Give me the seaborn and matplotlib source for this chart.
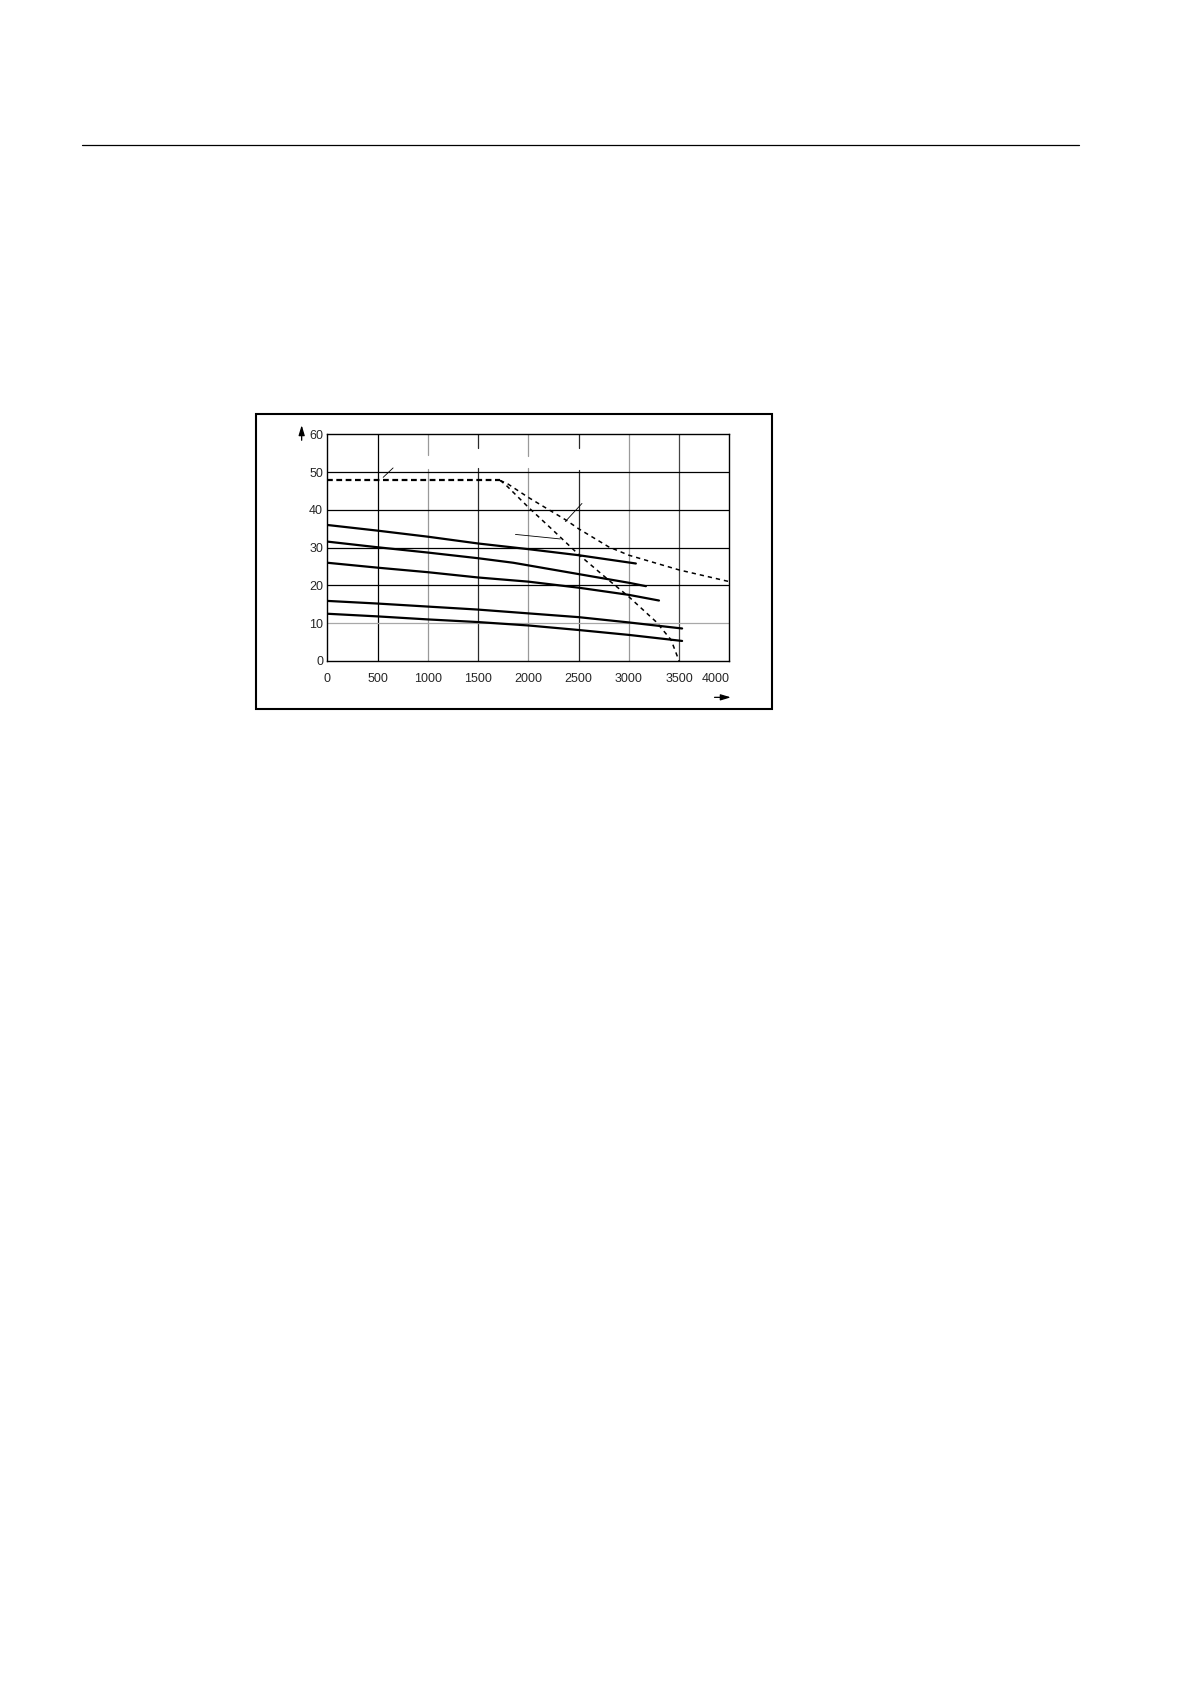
import numpy as np
import pandas as pd
import matplotlib
matplotlib.use('Agg')
import matplotlib.pyplot as plt
import seaborn as sns
from matplotlib.patches import Rectangle, FancyArrowPatch
from matplotlib.lines import Line2D

# valors llegits de la figura
x_ticks = [0, 500, 1000, 1500, 2000, 2500, 3000, 3500, 4000]
y_ticks = [0, 10, 20, 30, 40, 50, 60]

c1_x = [0, 500, 1000, 1500, 2000, 2500, 3070]
c1_y = [36.0, 34.5, 32.9, 31.1, 29.6, 28.0, 25.8]
c2_x = [0, 500, 1000, 1500, 1850, 2500, 3000, 3170]
c2_y = [31.6, 30.1, 28.7, 27.2, 26.0, 23.0, 20.7, 19.8]
c3_x = [0, 500, 1000, 1500, 2000, 2500, 3000, 3300]
c3_y = [26.0, 24.7, 23.5, 22.1, 21.0, 19.4, 17.5, 16.0]
c4_x = [0, 500, 1000, 1500, 2000, 2500, 3000, 3530]
c4_y = [15.9, 15.2, 14.4, 13.6, 12.6, 11.6, 10.2, 8.6]
c5_x = [0, 500, 1000, 1500, 2000, 2500, 3000, 3530]
c5_y = [12.5, 11.8, 11.0, 10.3, 9.4, 8.2, 6.9, 5.3]

lim_x = [0, 1720]
lim_y = [47.8, 47.8]
steep_x = [1720, 1780, 2000, 2250, 2500, 2800, 3000, 3270, 3420, 3500]
steep_y = [47.8, 46.5, 40.7, 34.5, 28.2, 21.4, 17.0, 10.4, 5.6, 0.0]
soft_x = [1720, 1800, 2000, 2375, 2500, 2800, 3000, 3500, 4000]
soft_y = [47.8, 46.8, 43.3, 37.3, 35.0, 30.2, 28.0, 24.1, 21.0]

# línies de referència (sense text)
leaders = [
    ([556, 655], [48.6, 51.1]),
    ([2368, 2534], [36.9, 41.7]),
    ([1872, 2318], [33.5, 32.3]),
]

sns.set_style('white')
plt.rcParams['font.family'] = ['Liberation Sans', 'DejaVu Sans']

fig = plt.figure(figsize=(11.9, 16.84), dpi=100)
ax = fig.add_axes([0.2750, 0.6075, 0.3379, 0.1346])

# graella
vgrid = {500: ('#000000', None), 1000: ('#9a9a9a', (54.4, 50.8)),
         1500: ('#2a2a2a', (56.5, 51.0)), 2000: ('#9a9a9a', (54.3, 51.2)),
         2500: ('#2a2a2a', (56.3, 50.5)), 3000: ('#9a9a9a', None),
         3500: ('#444444', None)}
for xv, (col, gap) in vgrid.items():
    if gap is None:
        ax.axvline(xv, color=col, lw=0.9, zorder=1)
    else:
        ax.axvline(xv, ymin=gap[0] / 60, ymax=1, color=col, lw=0.9, zorder=1)
        ax.axvline(xv, ymin=0, ymax=gap[1] / 60, color=col, lw=0.9, zorder=1)
for yv in [20, 30, 40, 50]:
    ax.axhline(yv, color='black', lw=0.9, zorder=1)
ax.axhline(10, color='#a8a8a8', lw=0.9, zorder=1)

# corbes contínues
rows = []
for i, (xs, ys) in enumerate([(c1_x, c1_y), (c2_x, c2_y), (c3_x, c3_y),
                              (c4_x, c4_y), (c5_x, c5_y)]):
    for a, b in zip(xs, ys):
        rows.append({'n': a, 'M': b, 'curve': f'c{i}'})
df = pd.DataFrame(rows)
sns.lineplot(data=df, x='n', y='M', units='curve', estimator=None, sort=False,
             color='black', lw=1.6, ax=ax, zorder=3)

# corbes discontínues
ax.plot(lim_x, lim_y, color='black', lw=1.6, dashes=(2.6, 1.6), zorder=3)
ax.plot(steep_x, steep_y, color='black', lw=1.1, dashes=(2.8, 2.6), zorder=3)
ax.plot(soft_x, soft_y, color='black', lw=1.1, dashes=(2.8, 2.6), zorder=3)

for lx, ly in leaders:
    ax.plot(lx, ly, color='black', lw=0.6, zorder=3)

ax.set_xlim(0, 4000)
ax.set_ylim(0, 60)
ax.set_xticks(x_ticks)
ax.set_yticks(y_ticks)
ax.set_xticklabels([str(v) for v in x_ticks], fontsize=9)
ax.set_yticklabels([str(v) for v in y_ticks], fontsize=9)
ax.get_xticklabels()[-1].set_horizontalalignment('right')
ax.tick_params(axis='x', length=0, pad=8.5)
ax.tick_params(axis='y', length=0, pad=3)
ax.set_xlabel('')
ax.set_ylabel('')
for s in ax.spines.values():
    s.set_visible(True)
    s.set_color('black')
    s.set_linewidth(1.0)

# marc exterior
fig.add_artist(Rectangle((0.2149, 0.5790), 0.6485 - 0.2149, 0.7542 - 0.5790,
                         transform=fig.transFigure, fill=False,
                         edgecolor='black', lw=1.5))

# fletxes dels eixos
fig.add_artist(FancyArrowPatch((0.2535, 0.7369), (0.2535, 0.7492),
                               transform=fig.transFigure,
                               arrowstyle='-|>,head_length=0.6,head_width=0.18',
                               mutation_scale=10, color='black', lw=0.9))
fig.add_artist(FancyArrowPatch((0.5981, 0.5859), (0.6165, 0.5859),
                               transform=fig.transFigure,
                               arrowstyle='-|>,head_length=0.6,head_width=0.18',
                               mutation_scale=10, color='black', lw=0.9))

# línia de capçalera
fig.add_artist(Line2D([0.0692, 0.9070], [0.9137, 0.9137],
                      transform=fig.transFigure, color='black', lw=0.9))

fig.savefig('out.png', dpi=100)
